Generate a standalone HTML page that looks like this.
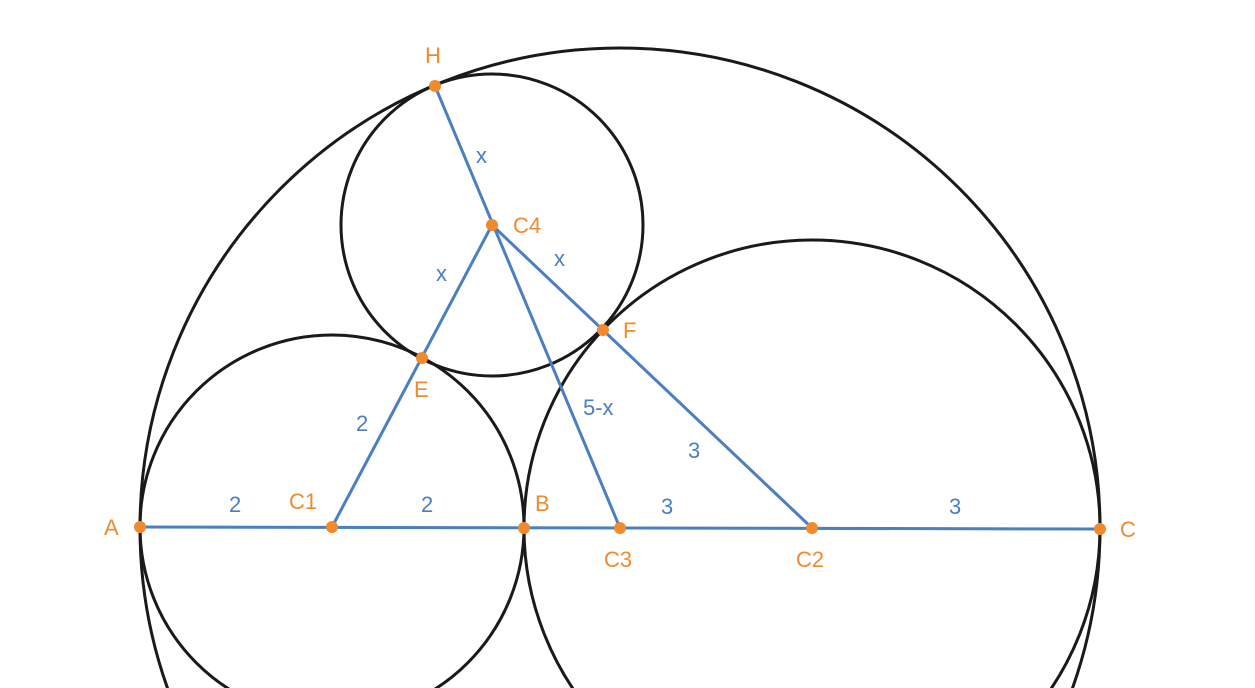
<!DOCTYPE html>
<html><head><meta charset="utf-8"><style>
html,body{margin:0;padding:0;background:#fff;width:1255px;height:688px;overflow:hidden;}
svg{display:block;}
text{font-family:"Liberation Sans",Arial,sans-serif;font-size:22px;}
.o{fill:#f08a2c;}
.b{fill:#4a7fc0;}
</style></head><body>
<svg width="1255" height="688" viewBox="0 0 1255 688">
<g fill="none" stroke="#1a1a1a" stroke-width="3">
<circle cx="620" cy="528" r="480"/>
<circle cx="332" cy="527" r="192"/>
<circle cx="812" cy="528" r="288"/>
<circle cx="492" cy="225" r="151"/>
</g>
<g stroke="#4a7fc0" stroke-width="3" fill="none">
<line x1="140" y1="527" x2="1100" y2="529"/>
<line x1="435" y1="86" x2="620" y2="528"/>
<line x1="332" y1="527" x2="492" y2="225"/>
<line x1="492" y1="225" x2="812" y2="528"/>
</g>
<g class="o">
<circle cx="140" cy="527" r="6"/>
<circle cx="332" cy="527" r="6"/>
<circle cx="524" cy="528" r="6"/>
<circle cx="620" cy="528" r="6"/>
<circle cx="812" cy="528" r="6"/>
<circle cx="1100" cy="529" r="6"/>
<circle cx="492" cy="225" r="6"/>
<circle cx="435" cy="86" r="6"/>
<circle cx="422" cy="358" r="6"/>
<circle cx="603" cy="330" r="6"/>
</g>
<g class="o">
<text x="104" y="535">A</text>
<text x="289" y="509">C1</text>
<text x="535" y="511">B</text>
<text x="604" y="567">C3</text>
<text x="796" y="567">C2</text>
<text x="1120" y="537">C</text>
<text x="513" y="233">C4</text>
<text x="425" y="63">H</text>
<text x="414" y="397">E</text>
<text x="623" y="338">F</text>
</g>
<g class="b">
<text x="229" y="512">2</text>
<text x="421" y="512">2</text>
<text x="661" y="514">3</text>
<text x="949" y="514">3</text>
<text x="356" y="431">2</text>
<text x="688" y="458">3</text>
<text x="583" y="415">5-x</text>
<text x="476" y="163">x</text>
<text x="436" y="281">x</text>
<text x="554" y="266">x</text>
</g>
</svg>
</body></html>
